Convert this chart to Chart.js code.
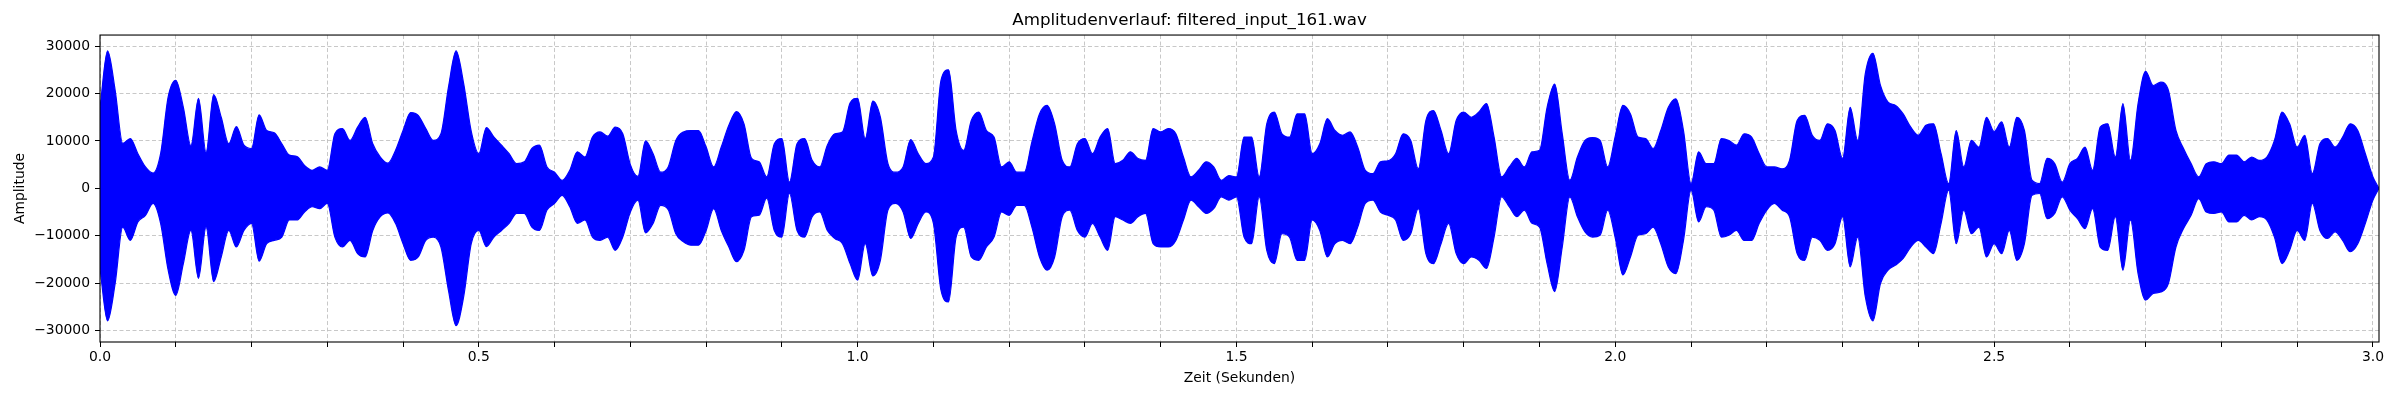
<!DOCTYPE html>
<html>
<head>
<meta charset="utf-8">
<title>Amplitudenverlauf</title>
<script src="https://cdn.jsdelivr.net/npm/chart.js@4.4.1/dist/chart.umd.min.js"></script>
<style>
  html, body { margin: 0; padding: 0; background: #ffffff; }
  #wrap { width: 2400px; height: 400px; }
</style>
</head>
<body>
<div id="wrap"><canvas id="ampChart" width="2400" height="400"></canvas></div>
<script>
// Envelope of the waveform, read every 0.01 s (last entry = end of file)
const sampleStep = 0.01;
const endTime = 3.008;

const upperEnvelope = [
  17000, 29000, 20700, 9500, 10500, 7300, 4500, 3200, 7300, 19300,
  22800, 17100, 9000, 19000, 7600, 19800, 15000, 9400, 13000, 9100,
  8400, 15500, 12200, 11700, 9400, 7000, 6700, 4800, 3800, 4500,
  3800, 11500, 12600, 10100, 12900, 15000, 9400, 6600, 5300, 8000,
  12200, 16000, 15400, 12600, 10100, 11500, 21400, 29000, 22100, 12000,
  7300, 12800, 10800, 9100, 7300, 5200, 5600, 8400, 9100, 4500,
  3400, 1700, 3800, 7700, 6600, 10800, 11900, 11000, 12900, 11500,
  5000, 2500, 10000, 7300, 3400, 4500, 10100, 11900, 12200, 12200,
  8700, 4500, 8700, 13300, 16200, 13600, 6300, 5600, 2400, 9400,
  10500, 1300, 9400, 10500, 5900, 4500, 9100, 11500, 11900, 18000,
  19000, 10500, 18400, 15000, 5200, 3400, 4500, 10300, 7300, 5200,
  6600, 22800, 25000, 12200, 8000, 14300, 16100, 12200, 10800, 4500,
  5600, 3400, 3400, 9800, 15700, 17500, 13600, 5900, 4500, 9400,
  10500, 7300, 10800, 12600, 5200, 5900, 7700, 6300, 5900, 12600,
  11900, 12600, 11500, 6600, 2400, 3800, 5600, 4500, 1700, 2700,
  2400, 10800, 10800, 2400, 13600, 16100, 11500, 10800, 15700, 15700,
  7300, 9400, 14700, 12200, 11200, 11900, 8700, 3800, 3100, 5600,
  5800, 7300, 11500, 10100, 4100, 14300, 16400, 12200, 7300, 14300,
  16100, 15000, 16100, 17900, 10800, 2400, 4500, 6300, 4500, 7700,
  8000, 17100, 22000, 11500, 1700, 6600, 10100, 10700, 10100, 4500,
  11000, 17500, 15700, 10800, 10500, 8400, 12200, 17100, 18900, 12200,
  1000, 7700, 5200, 5200, 10500, 10100, 9100, 11500, 10800, 7300,
  4500, 4500, 4100, 5900, 14300, 15400, 11200, 10100, 13600, 12200,
  6300, 17100, 10100, 24200, 28500, 21700, 18200, 17500, 15700, 12900,
  11200, 13300, 13600, 7300, 1000, 12200, 4500, 10100, 8700, 15000,
  12000, 14000, 8700, 15000, 12200, 1700, 1000, 6300, 5200, 1300,
  5200, 6300, 8700, 3800, 12900, 13600, 6600, 17900, 5900, 17900,
  24700, 21700, 22400, 20700, 12200, 8400, 5200, 2400, 5200, 5600,
  5200, 7000, 7000, 5600, 6600, 5900, 6600, 10100, 16100, 13600,
  8700, 11200, 3100, 9400, 10500, 8700, 10800, 13600, 12200, 7300,
  2400, 0
];

const lowerEnvelope = [
  -17000, -28000, -20100, -8200, -11000, -7100, -5700, -3200, -7400, -17300,
  -22600, -15900, -8900, -19000, -8200, -19700, -14500, -8900, -12400, -8900,
  -7400, -15400, -11700, -11000, -10300, -6700, -6700, -5000, -3900, -4300,
  -3200, -10300, -12400, -11000, -13800, -14500, -8900, -6000, -5200, -7400,
  -11700, -15200, -14500, -11000, -10300, -12400, -21600, -29000, -22900, -11700,
  -8900, -12300, -10300, -8900, -7400, -5300, -5300, -8200, -8900, -4600,
  -3200, -1500, -3900, -7400, -6700, -10300, -11000, -10300, -13100, -10300,
  -5000, -2500, -9400, -7400, -3600, -4500, -9600, -11300, -12000, -12000,
  -8900, -4300, -8900, -12400, -15500, -13100, -6000, -5700, -2100, -8900,
  -10300, -1100, -8900, -10300, -6000, -5000, -8900, -10600, -11700, -15900,
  -19400, -11700, -18500, -15200, -4600, -3200, -5000, -10600, -7400, -5000,
  -7400, -21500, -24000, -10300, -8200, -14500, -15200, -12400, -10300, -5000,
  -5700, -3600, -3600, -8200, -14500, -17300, -14500, -6000, -4600, -8900,
  -10300, -7400, -10300, -13100, -6000, -6700, -7400, -6000, -5300, -11700,
  -12400, -12400, -11000, -6700, -2500, -3900, -5300, -4300, -1800, -2500,
  -1800, -10300, -11700, -1800, -13100, -15900, -9600, -10300, -15200, -15200,
  -6700, -8900, -14500, -11700, -11000, -11700, -8200, -3200, -2500, -5000,
  -5700, -6700, -11000, -9600, -4300, -13800, -15900, -11700, -7400, -13800,
  -15900, -14500, -15200, -16900, -10300, -1800, -3900, -6000, -4600, -7400,
  -8200, -15900, -21800, -12400, -1800, -6000, -9200, -10300, -9900, -4600,
  -10500, -18300, -14500, -9900, -9600, -8200, -11700, -16600, -18000, -11000,
  -400, -7100, -3900, -4600, -10300, -9900, -8900, -11000, -11000, -7400,
  -4600, -3200, -4600, -6000, -13800, -15200, -10300, -11000, -13100, -11700,
  -6000, -16600, -10300, -22900, -28000, -20100, -17300, -16200, -14800, -12400,
  -11000, -12400, -13800, -7400, -400, -11700, -4600, -9600, -8200, -14500,
  -11700, -13800, -8900, -15200, -11700, -1500, -1100, -6400, -5300, -1800,
  -4600, -6400, -8500, -4300, -12400, -13100, -6000, -17300, -6700, -18000,
  -23600, -22200, -21900, -20100, -12400, -8500, -5700, -2200, -5000, -5300,
  -5000, -7100, -7100, -5700, -6700, -6000, -6700, -10300, -15900, -13100,
  -8900, -11000, -3200, -8900, -10600, -9200, -11000, -13400, -11700, -7400,
  -2500, 0
];

// Axis limits and ticks
const xMin = 0;
const xMax = endTime;
const xTickStep = 0.1;
const xLabelStep = 0.5;
const yMin = -32450;
const yMax = 32350;
const yTickValues = [-30000, -20000, -10000, 0, 10000, 20000, 30000];

const colors = {
  wave: '#0000ff',
  grid: 'rgba(176, 176, 176, 0.7)',
  axis: '#000000',
  text: '#000000'
};

const fontFamily = "'DejaVu Sans', sans-serif";

function timeAt(i, count) {
  return i === count - 1 ? endTime : i * sampleStep;
}

const upperPoints = upperEnvelope.map((v, i) => ({ x: timeAt(i, upperEnvelope.length), y: v }));
const lowerPoints = lowerEnvelope.map((v, i) => ({ x: timeAt(i, lowerEnvelope.length), y: v }));

// Closed frame around the plot area (matplotlib spines)
const framePlugin = {
  id: 'frame',
  afterDatasetsDraw(chart) {
    const { ctx, chartArea } = chart;
    ctx.save();
    ctx.strokeStyle = colors.axis;
    ctx.lineWidth = 1.1;
    ctx.strokeRect(chartArea.left, chartArea.top, chartArea.right - chartArea.left, chartArea.bottom - chartArea.top);
    ctx.restore();
  }
};

function formatY(value) {
  if (value === 0) return '0';
  return value < 0 ? '\u2212' + Math.abs(value) : String(value);
}

function formatX(value) {
  const r = value / xLabelStep;
  if (Math.abs(r - Math.round(r)) > 1e-6) return '';
  return value.toFixed(1);
}

const ctx = document.getElementById('ampChart').getContext('2d');

new Chart(ctx, {
  type: 'line',
  data: {
    datasets: [
      {
        label: 'oben',
        data: upperPoints,
        borderColor: colors.wave,
        backgroundColor: colors.wave,
        borderWidth: 1.2,
        pointRadius: 0,
        cubicInterpolationMode: 'monotone',
        fill: '+1'
      },
      {
        label: 'unten',
        data: lowerPoints,
        borderColor: colors.wave,
        backgroundColor: colors.wave,
        borderWidth: 1.2,
        pointRadius: 0,
        cubicInterpolationMode: 'monotone',
        fill: false
      }
    ]
  },
  options: {
    responsive: false,
    animation: false,
    devicePixelRatio: 1,
    layout: {
      padding: { top: 0, right: 21, bottom: 0, left: 0 }
    },
    plugins: {
      legend: { display: false },
      tooltip: { enabled: false },
      title: {
        display: true,
        text: 'Amplitudenverlauf: filtered_input_161.wav',
        color: colors.text,
        font: { family: fontFamily, size: 16.7, weight: 'normal' },
        padding: { top: 11, bottom: 4 }
      }
    },
    scales: {
      x: {
        type: 'linear',
        min: xMin,
        max: xMax,
        afterFit(scale) { scale.height = 58; },
        border: { display: false, dash: [4, 2.5] },
        grid: {
          color: colors.grid,
          lineWidth: 1,
          tickColor: colors.axis,
          tickLength: 5,
          tickWidth: 1,
          tickBorderDash: []
        },
        ticks: {
          stepSize: xTickStep,
          includeBounds: false,
          autoSkip: false,
          maxRotation: 0,
          padding: 2,
          color: colors.text,
          font: { family: fontFamily, size: 13.9 },
          callback: formatX
        },
        title: {
          display: true,
          text: 'Zeit (Sekunden)',
          color: colors.text,
          font: { family: fontFamily, size: 13.9 },
          padding: { top: 0, bottom: 13 }
        }
      },
      y: {
        type: 'linear',
        min: yMin,
        max: yMax,
        afterFit(scale) { scale.width = 100; },
        afterBuildTicks(scale) {
          scale.ticks = yTickValues.map(v => ({ value: v }));
        },
        border: { display: false, dash: [4, 2.5] },
        grid: {
          color: colors.grid,
          lineWidth: 1,
          tickColor: colors.axis,
          tickLength: 5,
          tickWidth: 1,
          tickBorderDash: []
        },
        ticks: {
          padding: 5,
          color: colors.text,
          font: { family: fontFamily, size: 13.9 },
          callback: formatY
        },
        title: {
          display: true,
          text: 'Amplitude',
          color: colors.text,
          font: { family: fontFamily, size: 13.9 },
          padding: { top: 12, bottom: 0 }
        }
      }
    }
  },
  plugins: [framePlugin]
});
</script>
</body>
</html>
